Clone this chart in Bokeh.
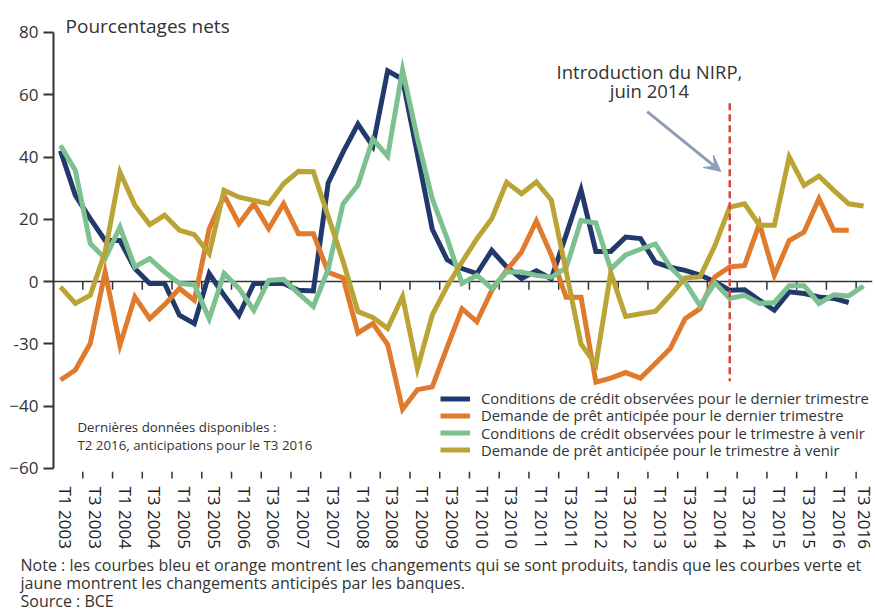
from bokeh.plotting import figure
from bokeh.models import (Range1d, FixedTicker, Span, Label, Legend, LegendItem, Arrow,
                          VeeHead, Title)
from bokeh.embed import file_html
from bokeh.resources import INLINE

# ---------------- data ----------------
quarters = [f"T{q} {y}" for y in range(2003, 2017) for q in (1, 2, 3, 4)][:55]  # T1 2003 .. T3 2016
tick_labels = ["T1 2003", "T3 2003", "T1 2004", "T3 2004", "T1 2005", "T3 2005", "T1 2006",
               "T3 2006", "T1 2007", "T3 2007", "T1 2008", "T3 2008", "T1 2009", "T3 2009",
               "T1 2010", "T3 2010", "T1 2011", "T3 2011", "T1 2012", "T3 2012", "T1 2013",
               "T3 2013", "T1 2014", "T3 2014", "T1 2015", "T3 2015", "T1 2016", "T3 2016"]

cond_last = [42, 27.7, 20.2, 13.2, 13.2, 4.2, -0.6, -0.6, -10.8, -13.5,
             2.6, -4.4, -10.8, -0.6, -0.6, -0.6, -2.8, -3, 31.7, 41.6,
             50.6, 43.5, 67.7, 65, 41, 16.8, 7, 4.2, 2.6, 10,
             4.7, 1, 3.5, 0.9, 15, 29.5, 9.7, 9.7, 14.3, 13.8,
             6.2, 4.6, 3.6, 2.1, 0, -2.8, -2.6, -6, -9.2, -3.3,
             -3.8, -4.9, -5.4, -6.7]
dem_last = [-31.6, -28.4, -19.9, 3.1, -20.4, -4.9, -11.9, -7.4, -2.2, -6,
            17, 27.7, 18.6, 25, 17, 25, 15.4, 15.4, 3, 1.2,
            -16.5, -13.5, -20.2, -41, -34.7, -33.8, -21, -8.7, -12.9, -2.8,
            3.6, 9.5, 19.5, 8.6, -5, -5, -32.3, -31, -29.2, -31,
            -26.3, -21.5, -11.9, -8.7, 1.5, 4.7, 5.2, 18.6, 2, 13.2,
            15.9, 26.6, 16.5, 16.5]
cond_next = [43.7, 35.7, 12.2, 7.4, 17.5, 4.7, 7.4, 3.1, -0.6, -1,
             -11.9, 2.6, -2.2, -9.2, 0.4, 0.7, -3.8, -8, 4, 25,
             31, 45.8, 40.3, 68, 46, 26.6, 13.8, -0.6, 2, -2.2,
             3.1, 3.1, 2, 1.4, 4.4, 19.6, 18.8, 4, 8.6, 10.4,
             12.1, 4.7, -0.2, -7.7, -0.4, -5.4, -4.4, -7, -6.7, -1.3,
             -1.3, -7, -4.2, -4.6, -1.4]
dem_next = [-1.7, -7, -4.4, 9.5, 35.1, 24.5, 18.3, 21.3, 16.5, 15.1,
            9, 29.3, 27.1, 26.1, 25, 31.4, 35.4, 35.3, 21, 6.5,
            -9.6, -11.5, -15, -4.8, -28, -10.7, -1.5, 6.3, 13.8, 20.2,
            31.9, 28.2, 32, 26.2, 3.3, -20, -26.7, 2.9, -11.2, -10.3,
            -9.6, -4.4, 1.2, 1.5, 11.5, 23.9, 25, 18.1, 18.1, 40,
            30.9, 33.9, 29.3, 25, 24.3]

series_names = ["Conditions de crédit observées pour le dernier trimestre",
                "Demande de prêt anticipée pour le dernier trimestre",
                "Conditions de crédit observées pour le trimestre à venir",
                "Demande de prêt anticipée pour le trimestre à venir"]
series_values = [cond_last, dem_last, cond_next, dem_next]
series_colors = ["#223a6b", "#e07a2d", "#7dc190", "#bba436"]

y_ticks = [-60, -40, -20, 0, 20, 40, 60, 80]
y_tick_text = {-20: "-30"}
nirp_quarter = "T2 2014"

note_lines = ["Note : les courbes bleu et orange montrent les changements qui se sont produits, "
              "tandis que les courbes verte et",
              "jaune montrent les changements anticipés par les banques.\nSource : BCE"]

# ---------------- figure ----------------
FONT = "Open Sans"
TXT = "#333333"
W, H = 875, 612
p = figure(width=W, height=H, output_backend="svg", toolbar_location=None,
           x_range=Range1d(-0.47, 54.6), y_range=Range1d(-63.55, 86.1),
           min_border_left=53, min_border_right=3, min_border_top=13, min_border_bottom=133,
           outline_line_color=None, background_fill_color="white", border_fill_color="white")
p.grid.visible = False

# y axis
ya = p.yaxis[0]
ya.bounds = (y_ticks[0], y_ticks[-1])
ya.ticker = FixedTicker(ticks=y_ticks, minor_ticks=[])
ya.major_label_overrides = y_tick_text
ya.axis_line_color = TXT
ya.axis_line_width = 2
ya.major_tick_line_color = TXT
ya.major_tick_line_width = 2
ya.major_tick_out = 10
ya.major_tick_in = 0
ya.minor_tick_line_color = None
ya.major_label_text_font = FONT
ya.major_label_text_font_size = "17px"
ya.major_label_text_color = TXT
ya.major_label_standoff = 5

# x axis: quarter labels (every second quarter), tick marks drawn between them
n = len(quarters)
tick_pos = [i + 1.5 for i in range(0, n - 1, 2)]
label_pos = [round(i + 0.35, 2) for i in range(0, n, 2)]

xa = p.xaxis[0]
xa.ticker = FixedTicker(ticks=label_pos, minor_ticks=[])
xa.major_label_overrides = dict(zip(label_pos, tick_labels))
xa.axis_line_color = None
xa.major_tick_line_color = None
xa.minor_tick_line_color = None
xa.major_tick_in = 0
xa.major_tick_out = 0
xa.major_label_orientation = "vertical"
xa.major_label_standoff = 7
xa.major_label_text_font = FONT
xa.major_label_text_font_size = "17px"
xa.major_label_text_color = "#222222"

# tick marks: on the zero line and under the bottom of the chart
p.add_layout(Span(location=0, dimension="width", line_color=TXT, line_width=1.5, level="underlay"))
p.segment(x0=tick_pos, y0=[0] * len(tick_pos), x1=tick_pos, y1=[-2.6] * len(tick_pos),
          line_color=TXT, line_width=1.5, level="underlay")
p.segment(x0=tick_pos, y0=[-61.1] * len(tick_pos), x1=tick_pos, y1=[-63.2] * len(tick_pos),
          line_color=TXT, line_width=1.5, level="underlay")

# data lines
renderers = []
for vals, col in zip(series_values, series_colors):
    r = p.line(list(range(len(vals))), vals, line_color=col, line_width=5, line_join="miter")
    renderers.append(r)

# legend: one row per entry so that the row pitch can be set exactly
for k, (nm, r) in enumerate(zip(series_names, renderers)):
    lg = Legend(items=[LegendItem(label=nm, renderers=[r])],
                location=(387, 71 - 17.3 * k), orientation="vertical", padding=0, spacing=0,
                margin=0, glyph_width=30, glyph_height=17, label_height=17, label_standoff=11,
                label_text_font=FONT, label_text_font_size="14.8px", label_text_color=TXT,
                background_fill_alpha=0, border_line_color=None)
    p.add_layout(lg)

# NIRP marker
xn = quarters.index(nirp_quarter)
p.segment(x0=[xn], y0=[57.3], x1=[xn], y1=[-32], line_color="#d9463f", line_width=2.5,
          line_dash="7 4")
arrow_col = "#8e9cb6"
p.add_layout(Arrow(end=VeeHead(size=16, fill_color=arrow_col, line_color=arrow_col),
                   x_start=39.45, y_start=54.6, x_end=44.4, y_end=35.4,
                   line_color=arrow_col, line_width=3))


def lab(text, x, y, size, align="left", color=TXT):
    p.add_layout(Label(x=x, y=y, text=text, text_font=FONT, text_font_size=size,
                       text_color=color, text_align=align, text_baseline="alphabetic"))


lab("Pourcentages nets", 0.34, 82.2, "19px")
lab("Introduction du NIRP,", 39.6, 67.4, "18.5px", align="center")
lab("juin 2014", 39.6, 61.4, "18.5px", align="center")
lab("Dernières données disponibles :", 1.14, -46.7, "13.3px")
lab("T2 2016, anticipations pour le T3 2016", 1.14, -52.4, "13.3px")

# note and source under the axis (stacked titles)
for txt, so in zip(note_lines, [5, -17]):
    p.add_layout(Title(text=txt, align="left", offset=-33, vertical_align="top", standoff=so,
                       text_font=FONT, text_font_size="16px", text_font_style="normal",
                       text_color=TXT, text_line_height=0.82), "below")

open("out.html", "w").write(file_html(p, INLINE))
